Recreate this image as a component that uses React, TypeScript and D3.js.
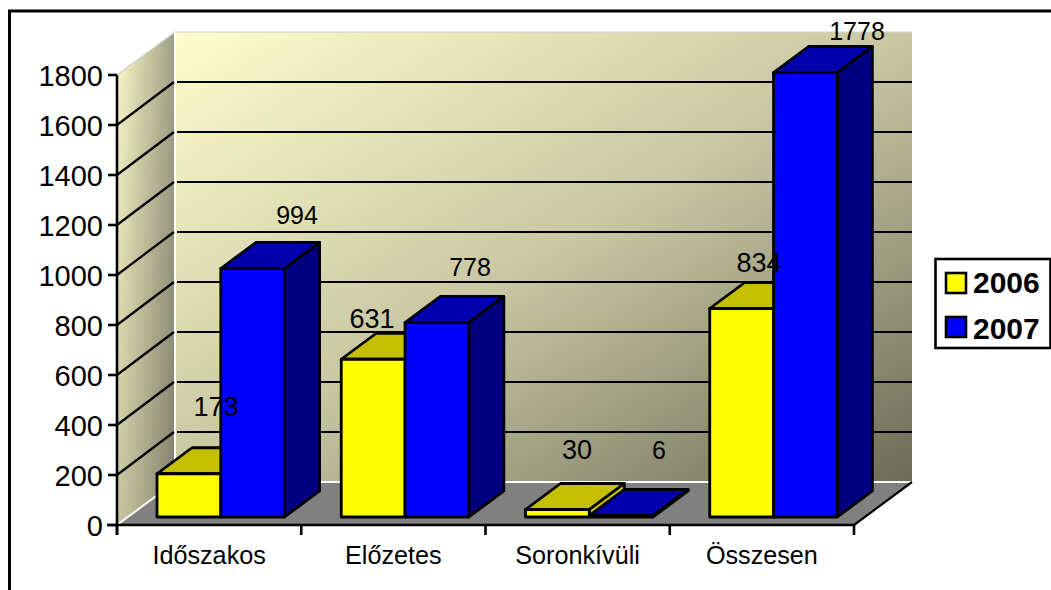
import React from "react";
import * as d3 from "d3";

const categories = ["Időszakos", "Előzetes", "Soronkívüli", "Összesen"];
const seriesNames = ["2006", "2007"];
const values2006 = [173, 631, 30, 834];
const values2007 = [994, 778, 6, 1778];
const yTicks = [0, 200, 400, 600, 800, 1000, 1200, 1400, 1600, 1800];

// hand-placed data label centres / baselines, as in the reference
const labelAt2006 = [[216, 416], [372, 328], [577, 459], [759, 272]];
const labelAt2007 = [[297, 224], [470, 276], [659, 459], [857, 40]];
const labelSize2006 = [27, 27, 27, 27];
const labelSize2007 = [25, 25, 25, 25];

const X0 = 117, X1 = 854, DX = 58, DY = 43;
const FONT = "'Liberation Sans', Arial, sans-serif";

const y = d3.scaleLinear().domain([0, 1800]).range([525, 75]);
const x = d3.scaleBand().domain(categories).range([X0, X1]);
const inner = d3.scaleBand().domain(seriesNames).range([40, 167.6]).padding(0);
const pts = (a: number[][]) => a.map((p) => p.join(",")).join(" ");

function Bar({ x0, w, value, front, top, side }: any) {
  const base = y(0) - 8;
  const h = y(0) - y(value);
  const t = base - h;
  const ddx = 35, ddy = 26;
  return (
    <g stroke="#000" strokeWidth={2.8} strokeLinejoin="round">
      <polygon points={pts([[x0, t], [x0 + ddx, t - ddy], [x0 + w + ddx, t - ddy], [x0 + w, t]])} fill={top} />
      <polygon points={pts([[x0 + w, t], [x0 + w + ddx, t - ddy], [x0 + w + ddx, base - ddy], [x0 + w, base]])} fill={side} />
      <rect x={x0} y={t} width={w} height={h} fill={front} />
    </g>
  );
}

export default function App() {
  const bw = inner.bandwidth();
  return (
    <svg width={1051} height={590} style={{ position: "absolute", left: 0, top: 0, background: "#fff" }} fontFamily={FONT}>
      <defs>
        <linearGradient id="back" x1="0" y1="0" x2="1" y2="1">
          <stop offset="0" stopColor="#FFFDCC" />
          <stop offset="0.5" stopColor="#C8C7A3" />
          <stop offset="1" stopColor="#6C6C57" />
        </linearGradient>
        <linearGradient id="sideW" x1="0" y1="0" x2="1" y2="0">
          <stop offset="0" stopColor="#FBF9C8" />
          <stop offset="1" stopColor="#A09E85" />
        </linearGradient>
        <linearGradient id="sideShade" x1="0" y1="0" x2="0" y2="1">
          <stop offset="0" stopColor="#000" stopOpacity={0} />
          <stop offset="1" stopColor="#000" stopOpacity={0.2} />
        </linearGradient>
      </defs>
      <rect x={9.5} y={11} width={1060} height={600} fill="#fff" stroke="#000" strokeWidth={3} />

      {/* walls */}
      <polygon points={pts([[X0, y(0)], [X0 + DX, y(0) - DY], [X0 + DX, y(1800) - DY], [X0, y(1800)]])} fill="url(#sideW)" />
      <polygon points={pts([[X0, y(0)], [X0 + DX, y(0) - DY], [X0 + DX, y(1800) - DY], [X0, y(1800)]])} fill="url(#sideShade)" />
      <rect x={X0 + DX} y={y(1800) - DY} width={X1 - X0} height={y(0) - y(1800)} fill="url(#back)" />
      <polygon points={pts([[X0, y(0)], [X0 + DX, y(0) - DY], [X1 + DX, y(0) - DY], [X1, y(0)]])} fill="#808080" />

      {/* wall edges */}
      <path d={`M${X0},${y(1800)}L${X0 + DX},${y(1800) - DY}H${X1 + DX}`} fill="none" stroke="#cfcfcf" strokeWidth={1.2} />
      <path d={`M${X0},${y(0)}L${X0 + DX},${y(0) - DY}V${y(1800) - DY}M${X0 + DX},${y(0) - DY}H${X1 + DX}`} fill="none" stroke="#fff" strokeWidth={2} />

      {/* grid */}
      {yTicks.slice(1, -1).map((t) => (
        <path key={t} d={`M${X0},${y(t)}L${X0 + DX - 1},${y(t) - DY}M${X0 + DX + 2},${y(t) - DY}H${X1 + DX}`} fill="none" stroke="#000" strokeWidth={2.2} />
      ))}

      {/* floor right edge */}
      <line x1={X1} y1={y(0)} x2={X1 + DX} y2={y(0) - DY} stroke="#000" strokeWidth={2.2} />

      {/* bars */}
      {categories.map((c, i) => (
        <g key={c}>
          <Bar x0={x(c)! + inner("2006")!} w={bw} value={values2006[i]} front="#FFFF00" top="#C4C000" side="#C4C000" />
          <Bar x0={x(c)! + inner("2007")!} w={bw} value={values2007[i]} front="#0000FF" top="#0000AE" side="#000080" />
        </g>
      ))}

      {/* axes */}
      <g stroke="#000" strokeWidth={2.6} fill="none">
        <path d={`M${X0},${y(1800)}V${y(0) + 10}`} />
        <path d={`M${X0 - 10},${y(0)}H${X1}`} />
        {yTicks.map((t) => (
          <line key={t} x1={X0 - 9} x2={X0} y1={y(t)} y2={y(t)} />
        ))}
        {d3.range(categories.length + 1).map((i) => (
          <line key={i} x1={X0 + (i * (X1 - X0)) / categories.length} x2={X0 + (i * (X1 - X0)) / categories.length} y1={y(0)} y2={y(0) + 10} />
        ))}
      </g>
      {yTicks.map((t) => (
        <text key={t} x={103} y={y(t) + 10.5} textAnchor="end" fontSize={29} fill="#000">{t}</text>
      ))}
      {categories.map((c) => (
        <text key={c} x={x(c)! + x.bandwidth() / 2} y={564} textAnchor="middle" fontSize={25.2} fill="#000">{c}</text>
      ))}

      {/* data labels */}
      {values2006.map((v, i) => (
        <text key={i} x={labelAt2006[i][0]} y={labelAt2006[i][1]} textAnchor="middle" fontSize={labelSize2006[i]} fill="#000">{v}</text>
      ))}
      {values2007.map((v, i) => (
        <text key={i} x={labelAt2007[i][0]} y={labelAt2007[i][1]} textAnchor="middle" fontSize={labelSize2007[i]} fill="#000">{v}</text>
      ))}

      {/* legend */}
      <rect x={935.5} y={259} width={115} height={89} fill="#fff" stroke="#000" strokeWidth={2.6} />
      {seriesNames.map((s, i) => (
        <g key={s}>
          <rect x={946} y={273 + i * 44} width={20} height={20} fill={i ? "#0000FF" : "#FFFF00"} stroke="#000" strokeWidth={2.6} />
          <text x={973} y={293 + i * 45.5} fontSize={30} fontWeight="bold" fill="#000">{s}</text>
        </g>
      ))}
    </svg>
  );
}
